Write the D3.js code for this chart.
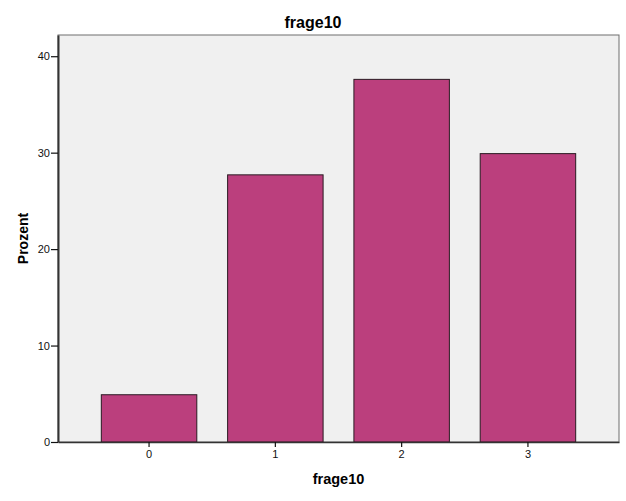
<!DOCTYPE html>
<html><head><meta charset="utf-8">
<script src="https://cdn.jsdelivr.net/npm/d3@7/dist/d3.min.js"></script>
<style>body{margin:0;background:#fff}svg{display:block}text{font-family:"Liberation Sans",Arial,sans-serif}</style>
</head><body>
<script>
const categories = ["0","1","2","3"];
const values = [4.9, 27.7, 37.6, 29.9];
const yTicks = [0, 10, 20, 30, 40];
const title = "frage10";
const xLabel = "frage10";
const yLabel = "Prozent";

const W = 626, H = 501;
const L = 58, R = 619, T = 35, B = 442;
const svg = d3.select("body").append("svg").attr("width", W).attr("height", H);

const x = d3.scaleBand().domain(categories).range([L, R]).paddingInner(0.244).paddingOuter(0.343);
const y = d3.scaleLinear().domain([0, 42.2]).range([B, T]);

svg.append("rect").attr("x", L).attr("y", T).attr("width", R - L).attr("height", B - T)
  .attr("fill", "#f0f0f0").attr("stroke", "#6e6e6e").attr("stroke-width", 1);

svg.selectAll("rect.bar").data(values).join("rect").attr("class", "bar")
  .attr("x", (d, i) => x(categories[i]))
  .attr("y", d => y(d))
  .attr("width", x.bandwidth())
  .attr("height", d => B - y(d))
  .attr("fill", "#bb3f7d").attr("stroke", "#2a1a22").attr("stroke-width", 1);

const yAxis = svg.append("g").attr("transform", `translate(${L},0)`)
  .call(d3.axisLeft(y).tickValues(yTicks).tickSize(7).tickSizeOuter(0).tickPadding(1).tickFormat(d3.format("d")));
yAxis.select(".domain").attr("stroke", "#333").attr("stroke-width", 2);
yAxis.selectAll(".tick line").attr("stroke", "#111").attr("stroke-width", 1.2);
yAxis.selectAll("text").attr("font-size", 11).attr("fill", "#111");

const xAxis = svg.append("g").attr("transform", `translate(0,${B})`)
  .call(d3.axisBottom(x).tickSize(5).tickSizeOuter(0).tickPadding(3));
xAxis.select(".domain").attr("stroke", "#333").attr("stroke-width", 1.5);
xAxis.selectAll(".tick line").attr("stroke", "#111").attr("stroke-width", 1.2);
xAxis.selectAll("text").attr("font-size", 11).attr("fill", "#111");

svg.append("text").attr("x", 313).attr("y", 28).attr("text-anchor", "middle")
  .attr("font-size", 16).attr("font-weight", "bold").attr("fill", "#000").text(title);
svg.append("text").attr("x", (L + R) / 2).attr("y", 484).attr("text-anchor", "middle")
  .attr("font-size", 14.5).attr("font-weight", "bold").attr("fill", "#000").text(xLabel);
svg.append("text").attr("transform", `translate(28,${(T + B) / 2}) rotate(-90)`).attr("text-anchor", "middle")
  .attr("font-size", 14).attr("font-weight", "bold").attr("fill", "#000").text(yLabel);
</script>
</body></html>
